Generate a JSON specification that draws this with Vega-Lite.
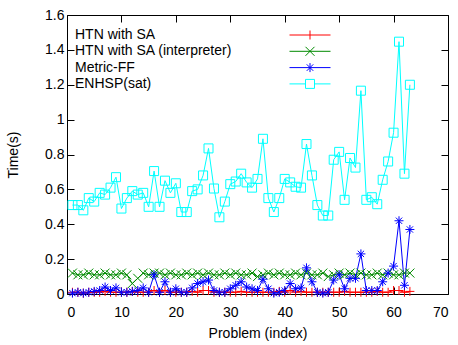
{
  "$schema": "https://vega.github.io/schema/vega-lite/v6.json",
  "width": 381,
  "height": 279,
  "autosize": {"type": "none"},
  "padding": {"left": 67, "top": 15, "right": 10, "bottom": 51},
  "config": {
    "view": {"stroke": "black", "strokeWidth": 1},
    "font": "Liberation Sans",
    "axis": {
      "labelFont": "Liberation Sans", "titleFont": "Liberation Sans",
      "labelFontSize": 14, "titleFontSize": 14, "titleFontWeight": "normal",
      "labelColor": "black", "titleColor": "black", "tickColor": "black",
      "grid": false, "domain": false, "tickSize": -7, "tickWidth": 1
    },
    "legend": {"labelFont": "Liberation Sans", "labelFontSize": 14, "labelColor": "black"}
  },
  "data": {"values": [
    {"p":1,"HTN with SA":0.01,"HTN with SA (interpreter)":0.12,"Metric-FF":0.005,"ENHSP(sat)":0.51},
    {"p":2,"HTN with SA":0.01,"HTN with SA (interpreter)":0.11,"Metric-FF":0.01,"ENHSP(sat)":0.51},
    {"p":3,"HTN with SA":0.005,"HTN with SA (interpreter)":0.11,"Metric-FF":0.005,"ENHSP(sat)":0.48},
    {"p":4,"HTN with SA":0.01,"HTN with SA (interpreter)":0.12,"Metric-FF":0.01,"ENHSP(sat)":0.55},
    {"p":5,"HTN with SA":0.01,"HTN with SA (interpreter)":0.11,"Metric-FF":0.015,"ENHSP(sat)":0.53},
    {"p":6,"HTN with SA":0.01,"HTN with SA (interpreter)":0.11,"Metric-FF":0.02,"ENHSP(sat)":0.58},
    {"p":7,"HTN with SA":0.015,"HTN with SA (interpreter)":0.12,"Metric-FF":0.04,"ENHSP(sat)":0.57},
    {"p":8,"HTN with SA":0.01,"HTN with SA (interpreter)":0.11,"Metric-FF":0.02,"ENHSP(sat)":0.61},
    {"p":9,"HTN with SA":0.01,"HTN with SA (interpreter)":0.11,"Metric-FF":0.035,"ENHSP(sat)":0.67},
    {"p":10,"HTN with SA":0.01,"HTN with SA (interpreter)":0.12,"Metric-FF":0.01,"ENHSP(sat)":0.49},
    {"p":11,"HTN with SA":0.01,"HTN with SA (interpreter)":0.11,"Metric-FF":0.01,"ENHSP(sat)":0.55},
    {"p":12,"HTN with SA":0.015,"HTN with SA (interpreter)":0.06,"Metric-FF":0.015,"ENHSP(sat)":0.59},
    {"p":13,"HTN with SA":0.01,"HTN with SA (interpreter)":0.09,"Metric-FF":0.02,"ENHSP(sat)":0.57},
    {"p":14,"HTN with SA":0.01,"HTN with SA (interpreter)":0.12,"Metric-FF":0.035,"ENHSP(sat)":0.58},
    {"p":15,"HTN with SA":0.01,"HTN with SA (interpreter)":0.11,"Metric-FF":0.01,"ENHSP(sat)":0.50},
    {"p":16,"HTN with SA":0.02,"HTN with SA (interpreter)":0.12,"Metric-FF":0.11,"ENHSP(sat)":0.705},
    {"p":17,"HTN with SA":0.01,"HTN with SA (interpreter)":0.12,"Metric-FF":0.01,"ENHSP(sat)":0.50},
    {"p":18,"HTN with SA":0.02,"HTN with SA (interpreter)":0.11,"Metric-FF":0.07,"ENHSP(sat)":0.65},
    {"p":19,"HTN with SA":0.01,"HTN with SA (interpreter)":0.12,"Metric-FF":0.01,"ENHSP(sat)":0.58},
    {"p":20,"HTN with SA":0.01,"HTN with SA (interpreter)":0.11,"Metric-FF":0.03,"ENHSP(sat)":0.635},
    {"p":21,"HTN with SA":0.01,"HTN with SA (interpreter)":0.11,"Metric-FF":0.01,"ENHSP(sat)":0.47},
    {"p":22,"HTN with SA":0.01,"HTN with SA (interpreter)":0.12,"Metric-FF":0.01,"ENHSP(sat)":0.47},
    {"p":23,"HTN with SA":0.015,"HTN with SA (interpreter)":0.11,"Metric-FF":0.035,"ENHSP(sat)":0.59},
    {"p":24,"HTN with SA":0.01,"HTN with SA (interpreter)":0.12,"Metric-FF":0.06,"ENHSP(sat)":0.60},
    {"p":25,"HTN with SA":0.02,"HTN with SA (interpreter)":0.11,"Metric-FF":0.07,"ENHSP(sat)":0.68},
    {"p":26,"HTN with SA":0.02,"HTN with SA (interpreter)":0.12,"Metric-FF":0.08,"ENHSP(sat)":0.835},
    {"p":27,"HTN with SA":0.01,"HTN with SA (interpreter)":0.11,"Metric-FF":0.02,"ENHSP(sat)":0.605},
    {"p":28,"HTN with SA":0.01,"HTN with SA (interpreter)":0.11,"Metric-FF":0.01,"ENHSP(sat)":0.44},
    {"p":29,"HTN with SA":0.01,"HTN with SA (interpreter)":0.12,"Metric-FF":0.01,"ENHSP(sat)":0.53},
    {"p":30,"HTN with SA":0.01,"HTN with SA (interpreter)":0.11,"Metric-FF":0.03,"ENHSP(sat)":0.63},
    {"p":31,"HTN with SA":0.01,"HTN with SA (interpreter)":0.12,"Metric-FF":0.05,"ENHSP(sat)":0.645},
    {"p":32,"HTN with SA":0.015,"HTN with SA (interpreter)":0.11,"Metric-FF":0.07,"ENHSP(sat)":0.69},
    {"p":33,"HTN with SA":0.01,"HTN with SA (interpreter)":0.11,"Metric-FF":0.04,"ENHSP(sat)":0.64},
    {"p":34,"HTN with SA":0.01,"HTN with SA (interpreter)":0.12,"Metric-FF":0.03,"ENHSP(sat)":0.61},
    {"p":35,"HTN with SA":0.01,"HTN with SA (interpreter)":0.10,"Metric-FF":0.02,"ENHSP(sat)":0.66},
    {"p":36,"HTN with SA":0.01,"HTN with SA (interpreter)":0.11,"Metric-FF":0.085,"ENHSP(sat)":0.89},
    {"p":37,"HTN with SA":0.01,"HTN with SA (interpreter)":0.12,"Metric-FF":0.03,"ENHSP(sat)":0.55},
    {"p":38,"HTN with SA":0.01,"HTN with SA (interpreter)":0.11,"Metric-FF":0.005,"ENHSP(sat)":0.47},
    {"p":39,"HTN with SA":0.015,"HTN with SA (interpreter)":0.12,"Metric-FF":0.01,"ENHSP(sat)":0.55},
    {"p":40,"HTN with SA":0.01,"HTN with SA (interpreter)":0.11,"Metric-FF":0.02,"ENHSP(sat)":0.66},
    {"p":41,"HTN with SA":0.02,"HTN with SA (interpreter)":0.11,"Metric-FF":0.06,"ENHSP(sat)":0.64},
    {"p":42,"HTN with SA":0.01,"HTN with SA (interpreter)":0.12,"Metric-FF":0.03,"ENHSP(sat)":0.615},
    {"p":43,"HTN with SA":0.015,"HTN with SA (interpreter)":0.11,"Metric-FF":0.035,"ENHSP(sat)":0.61},
    {"p":44,"HTN with SA":0.01,"HTN with SA (interpreter)":0.12,"Metric-FF":0.15,"ENHSP(sat)":0.86},
    {"p":45,"HTN with SA":0.01,"HTN with SA (interpreter)":0.11,"Metric-FF":0.07,"ENHSP(sat)":0.68},
    {"p":46,"HTN with SA":0.01,"HTN with SA (interpreter)":0.11,"Metric-FF":0.01,"ENHSP(sat)":0.51},
    {"p":47,"HTN with SA":0.01,"HTN with SA (interpreter)":0.12,"Metric-FF":0.005,"ENHSP(sat)":0.45},
    {"p":48,"HTN with SA":0.01,"HTN with SA (interpreter)":0.10,"Metric-FF":0.01,"ENHSP(sat)":0.45},
    {"p":49,"HTN with SA":0.01,"HTN with SA (interpreter)":0.11,"Metric-FF":0.08,"ENHSP(sat)":0.77},
    {"p":50,"HTN with SA":0.01,"HTN with SA (interpreter)":0.12,"Metric-FF":0.11,"ENHSP(sat)":0.815},
    {"p":51,"HTN with SA":0.015,"HTN with SA (interpreter)":0.11,"Metric-FF":0.03,"ENHSP(sat)":0.54},
    {"p":52,"HTN with SA":0.01,"HTN with SA (interpreter)":0.12,"Metric-FF":0.09,"ENHSP(sat)":0.78},
    {"p":53,"HTN with SA":0.01,"HTN with SA (interpreter)":0.11,"Metric-FF":0.09,"ENHSP(sat)":0.725},
    {"p":54,"HTN with SA":0.01,"HTN with SA (interpreter)":0.12,"Metric-FF":0.23,"ENHSP(sat)":1.166},
    {"p":55,"HTN with SA":0.01,"HTN with SA (interpreter)":0.11,"Metric-FF":0.02,"ENHSP(sat)":0.54},
    {"p":56,"HTN with SA":0.01,"HTN with SA (interpreter)":0.11,"Metric-FF":0.02,"ENHSP(sat)":0.555},
    {"p":57,"HTN with SA":0.015,"HTN with SA (interpreter)":0.12,"Metric-FF":0.02,"ENHSP(sat)":0.515},
    {"p":58,"HTN with SA":0.01,"HTN with SA (interpreter)":0.11,"Metric-FF":0.07,"ENHSP(sat)":0.655},
    {"p":59,"HTN with SA":0.01,"HTN with SA (interpreter)":0.12,"Metric-FF":0.12,"ENHSP(sat)":0.76},
    {"p":60,"HTN with SA":0.02,"HTN with SA (interpreter)":0.11,"Metric-FF":0.16,"ENHSP(sat)":0.925},
    {"p":61,"HTN with SA":0.02,"HTN with SA (interpreter)":0.11,"Metric-FF":0.42,"ENHSP(sat)":1.447},
    {"p":62,"HTN with SA":0.01,"HTN with SA (interpreter)":0.12,"Metric-FF":0.05,"ENHSP(sat)":0.69},
    {"p":63,"HTN with SA":0.015,"HTN with SA (interpreter)":0.12,"Metric-FF":0.37,"ENHSP(sat)":1.20}
  ]},
  "transform": [
    {"fold": ["HTN with SA", "HTN with SA (interpreter)", "Metric-FF", "ENHSP(sat)"], "as": ["series", "time"]}
  ],
  "layer": [
    {
      "mark": {"type": "line", "strokeWidth": 1},
      "encoding": {
        "x": {"field": "p", "type": "quantitative", "scale": {"domain": [0, 70], "nice": false},
              "axis": {"orient": "bottom", "values": [0, 10, 20, 30, 40, 50, 60, 70], "title": "Problem (index)", "labelPadding": 18, "titlePadding": 7}},
        "y": {"field": "time", "type": "quantitative", "scale": {"domain": [0, 1.6], "nice": false},
              "axis": {"orient": "left", "values": [0, 0.2, 0.4, 0.6, 0.8, 1, 1.2, 1.4, 1.6], "format": "~g", "title": "Time(s)", "labelPadding": 10, "titlePadding": 24}},
        "color": {"field": "series", "type": "nominal",
                  "scale": {"domain": ["HTN with SA", "HTN with SA (interpreter)", "Metric-FF", "ENHSP(sat)"], "range": ["#ff0000", "#008a00", "#0000ff", "#00ffff"]},
                  "legend": null}
      }
    },
    {
      "mark": {"type": "point", "filled": false, "strokeWidth": 1, "size": 81, "opacity": 1},
      "encoding": {
        "x": {"field": "p", "type": "quantitative", "axis": {"orient": "top", "values": [0, 10, 20, 30, 40, 50, 60, 70], "labels": false, "title": null}},
        "y": {"field": "time", "type": "quantitative", "axis": {"orient": "right", "values": [0, 0.2, 0.4, 0.6, 0.8, 1, 1.2, 1.4, 1.6], "labels": false, "title": null}},
        "color": {"field": "series", "type": "nominal", "legend": null},
        "shape": {"field": "series", "type": "nominal",
                  "scale": {"domain": ["HTN with SA", "HTN with SA (interpreter)", "Metric-FF", "ENHSP(sat)"],
                            "range": ["M-1,0H1M0,-1V1", "M-1,-1L1,1M-1,1L1,-1", "M-1,0H1M0,-1V1M-0.7,-0.7L0.7,0.7M-0.7,0.7L0.7,-0.7", "M-1,-1H1V1H-1Z"]},
                  "legend": null}
      }
    },
    {
      "mark": {"type": "point", "filled": false, "strokeWidth": 1, "size": 100, "opacity": 0},
      "encoding": {
        "x": {"field": "p", "type": "quantitative", "axis": null},
        "y": {"field": "time", "type": "quantitative", "axis": null},
        "color": {"field": "series", "type": "nominal",
                  "legend": {"orient": "none", "legendX": 236, "legendY": 13, "title": null, "padding": 0, "rowPadding": 2.3, "labelOffset": -242, "symbolSize": 100, "symbolOpacity": 1, "symbolStrokeWidth": 1, "labelBaseline": "middle"}},
        "shape": {"field": "series", "type": "nominal",
                  "scale": {"domain": ["HTN with SA", "HTN with SA (interpreter)", "Metric-FF", "ENHSP(sat)"],
                            "range": ["M-4.1,0H4.1M0,-0.9V0.9", "M-4.1,0H4.1M-0.9,-0.9L0.9,0.9M-0.9,0.9L0.9,-0.9", "M-4.1,0H4.1M0,-0.9V0.9M-0.65,-0.65L0.65,0.65M-0.65,0.65L0.65,-0.65", "M-4.1,0H-0.9M0.9,0H4.1M-0.9,-0.9H0.9V0.9H-0.9Z"]},
                  "legend": {"orient": "none", "legendX": 236, "legendY": 13, "title": null, "padding": 0, "rowPadding": 2.3, "labelOffset": -242, "symbolSize": 100, "symbolOpacity": 1, "symbolStrokeWidth": 1, "labelBaseline": "middle"}}
      }
    }
  ],
  "resolve": {
    "scale": {"shape": "independent"},
    "axis": {"x": "independent", "y": "independent"},
    "legend": {"color": "independent", "shape": "independent"}
  }
}
